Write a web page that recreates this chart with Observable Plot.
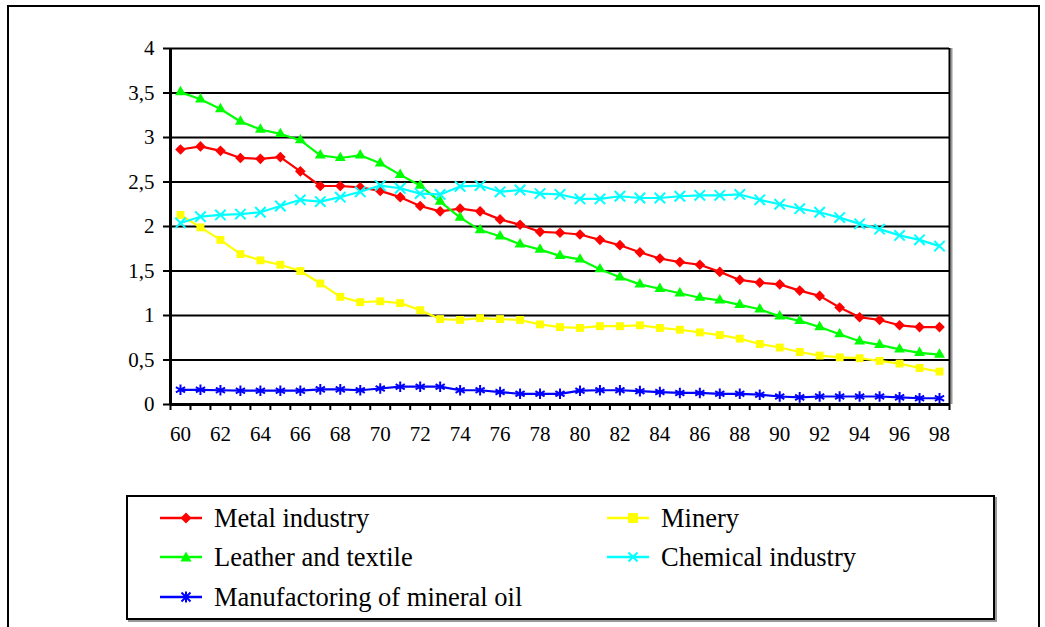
<!DOCTYPE html>
<html>
<head>
<meta charset="utf-8">
<script src="https://cdn.jsdelivr.net/npm/d3@7"></script>
<script src="https://cdn.jsdelivr.net/npm/@observablehq/plot@0.6"></script>
<style>
  html, body { margin: 0; padding: 0; background: #fff; }
  body { position: relative; width: 1045px; height: 627px; overflow: hidden; font-family: "Liberation Serif", "Times New Roman", serif; }
  #chart { position: absolute; left: 0; top: 0; }
  #frame { position: absolute; left: 7px; top: 5px; width: 1033px; height: 660px; border: 2px solid #000; box-sizing: border-box; pointer-events: none; }
  #legend { position: absolute; left: 126px; top: 495px; width: 869px; height: 125px; border: 2px solid #000; box-sizing: border-box; box-shadow: 2px 2px 0 #999; background: #fff; }
  .item { position: absolute; height: 40px; display: flex; align-items: center; font-size: 26.5px; color: #000; white-space: nowrap; font-family: "Liberation Serif", "Times New Roman", serif; }
  .item svg { margin-right: 12px; }
</style>
</head>
<body>
<div id="chart"></div>
<div id="legend"></div>
<div id="frame"></div>
<script>
const years = d3.range(60, 99);
const seriesNames = ["Metal industry", "Minery", "Leather and textile", "Chemical industry", "Manufactoring of mineral oil"];
const seriesColors = ["#ff0000", "#ffff00", "#00ff00", "#00ffff", "#0000ff"];
const yTicks = [0, 0.5, 1, 1.5, 2, 2.5, 3, 3.5, 4];
const xLabelTicks = d3.range(60, 99, 2);

const metal = [2.865, 2.90, 2.85, 2.77, 2.76, 2.78, 2.62, 2.455, 2.455, 2.44, 2.40, 2.33,
  2.23, 2.17, 2.20, 2.17, 2.08, 2.02, 1.94, 1.93, 1.91, 1.85, 1.79, 1.71, 1.64, 1.60,
  1.57, 1.49, 1.40, 1.37, 1.35, 1.28, 1.22, 1.09, 0.98, 0.95, 0.89, 0.87, 0.87];
const minery = [2.13, 1.99, 1.85, 1.69, 1.62, 1.57, 1.50, 1.36, 1.21, 1.15, 1.16, 1.14,
  1.06, 0.96, 0.95, 0.97, 0.96, 0.95, 0.90, 0.87, 0.86, 0.88, 0.88, 0.89, 0.86, 0.84,
  0.81, 0.78, 0.74, 0.68, 0.64, 0.59, 0.55, 0.53, 0.52, 0.49, 0.46, 0.41, 0.37];
const leather = [3.51, 3.43, 3.32, 3.18, 3.09, 3.04, 2.97, 2.80, 2.77, 2.80, 2.71, 2.58,
  2.46, 2.28, 2.10, 1.96, 1.89, 1.80, 1.74, 1.67, 1.63, 1.52, 1.43, 1.35, 1.30, 1.25,
  1.20, 1.17, 1.12, 1.07, 0.99, 0.94, 0.87, 0.79, 0.71, 0.67, 0.62, 0.58, 0.56];
const chemical = [2.04, 2.11, 2.13, 2.14, 2.16, 2.23, 2.30, 2.28, 2.33, 2.39, 2.46, 2.43,
  2.37, 2.36, 2.45, 2.46, 2.39, 2.41, 2.37, 2.36, 2.31, 2.31, 2.34, 2.32, 2.32, 2.34,
  2.35, 2.35, 2.36, 2.30, 2.25, 2.20, 2.16, 2.10, 2.03, 1.97, 1.90, 1.85, 1.78];
const mineralOil = [0.165, 0.165, 0.16, 0.155, 0.155, 0.155, 0.155, 0.17, 0.17, 0.16, 0.18, 0.20,
  0.20, 0.20, 0.16, 0.16, 0.14, 0.12, 0.12, 0.12, 0.155, 0.16, 0.16, 0.15, 0.14, 0.13,
  0.13, 0.12, 0.12, 0.11, 0.09, 0.08, 0.09, 0.09, 0.09, 0.09, 0.08, 0.07, 0.07];

const seriesValues = [metal, minery, leather, chemical, mineralOil];
const symbols = ["diamond2", "square2", "triangle2", "times", "asterisk"];
const symbolR = [4.8, 5, 5.2, 4.8, 5];
const filled = [true, true, true, false, false];

const rows = [];
seriesNames.forEach((name, i) => {
  seriesValues[i].forEach((v, j) => rows.push({series: name, year: years[j], value: v}));
});

const comma = d => String(d).replace(".", ",");
const serif = "Liberation Serif";

const marks = [
  Plot.ruleY(yTicks.filter(d => d > 0), {stroke: "#000", strokeWidth: 2}),
  Plot.ruleX([98.5], {stroke: "#999", strokeWidth: 2, dx: 2}),
  Plot.ruleX([98.5], {stroke: "#000", strokeWidth: 2}),
  Plot.axisY({ticks: yTicks, tickSize: 7, tickPadding: 9, tickFormat: comma, strokeWidth: 2, fontSize: 21, fontFamily: serif, fill: "#000"}),
  Plot.axisX({ticks: d3.range(59.5, 99, 1), tickSize: 6, tickFormat: () => "", strokeWidth: 2}),
  Plot.axisX({ticks: xLabelTicks, tickSize: 0, tickPadding: 22, tickFormat: d => String(d), fontSize: 21, fontFamily: serif, fill: "#000"}),
  Plot.ruleX([59.5], {stroke: "#000", strokeWidth: 3}),
  Plot.ruleY([0], {stroke: "#000", strokeWidth: 3})
];
seriesNames.forEach((name, i) => {
  const data = rows.filter(r => r.series === name);
  marks.push(Plot.line(data, {x: "year", y: "value", stroke: seriesColors[i], strokeWidth: 2.2}));
  marks.push(Plot.dot(data, filled[i]
    ? {x: "year", y: "value", symbol: () => symbols[i], r: symbolR[i], fill: seriesColors[i], stroke: "none"}
    : {x: "year", y: "value", symbol: () => symbols[i], r: symbolR[i], stroke: seriesColors[i], strokeWidth: 2, fill: "none"}));
});

const chart = Plot.plot({
  width: 1045,
  height: 470,
  marginLeft: 170,
  marginRight: 96,
  marginTop: 48,
  marginBottom: 66,
  style: {fontFamily: "'Liberation Serif', serif", fontSize: "21px", color: "#000", background: "transparent", overflow: "visible"},
  x: {domain: [59.5, 98.5], label: null},
  y: {domain: [0, 4], label: null},
  symbol: {type: "identity"},
  marks
});
document.getElementById("chart").appendChild(chart);

// Legend (HTML)
const legend = document.getElementById("legend");
const positions = [[32, 1], [479, 1], [32, 40], [479, 40], [32, 80]];
const swatchPaths = [
  '<path d="M0,-5.5L5.5,0L0,5.5L-5.5,0Z" fill="C"/>',
  '<rect x="-5" y="-5" width="10" height="10" fill="C"/>',
  '<path d="M0,-5.5L5.5,4.5L-5.5,4.5Z" fill="C"/>',
  '<path d="M-4.5,-4.5L4.5,4.5M-4.5,4.5L4.5,-4.5" stroke="C" stroke-width="2"/>',
  '<path d="M-4.5,-4.5L4.5,4.5M-4.5,4.5L4.5,-4.5M0,-5.5L0,5.5" stroke="C" stroke-width="2"/>'
];
seriesNames.forEach((name, i) => {
  const div = document.createElement("div");
  div.className = "item";
  div.style.left = positions[i][0] + "px";
  div.style.top = positions[i][1] + "px";
  const c = seriesColors[i];
  div.innerHTML = `<svg width="42" height="14" viewBox="-26 -7 42 14"><line x1="-26" x2="16" y1="0" y2="0" stroke="${c}" stroke-width="2.5"/>${swatchPaths[i].replace(/C/g, c)}</svg><span>${name}</span>`;
  legend.appendChild(div);
});
</script>
</body>
</html>
